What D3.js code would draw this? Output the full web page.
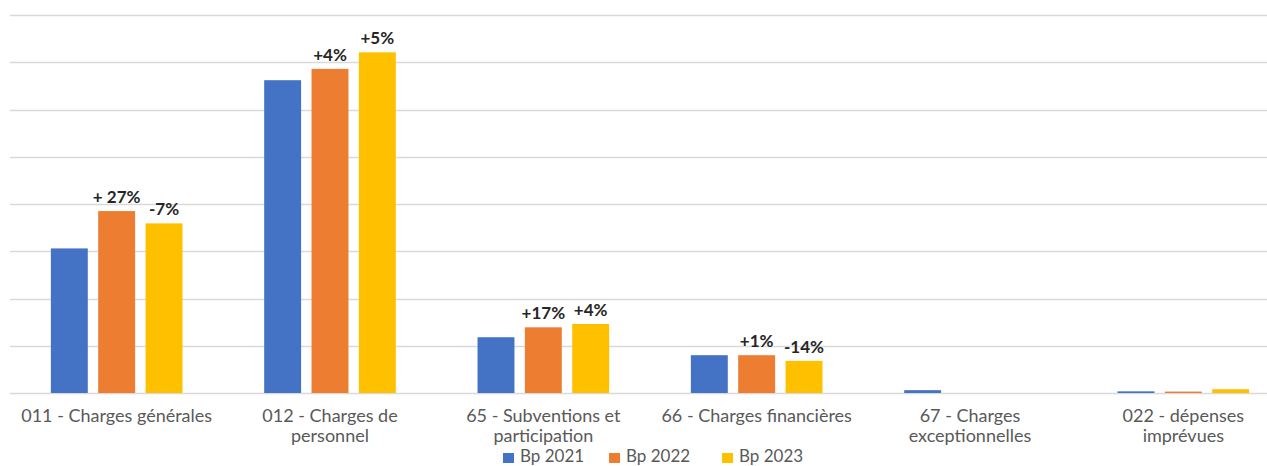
<!DOCTYPE html>
<html>
<head>
<meta charset="utf-8">
<script src="https://cdn.jsdelivr.net/npm/d3@7"></script>
<style>
  html, body { margin: 0; padding: 0; background: #ffffff; }
  svg { display: block; }
</style>
</head>
<body>
<svg id="chart" width="1267" height="466"></svg>
<script>
// ---- data (values in gridline units) ----
const categories = [
  "011 - Charges générales",
  "012 - Charges de personnel",
  "65 - Subventions et participation",
  "66 - Charges financières",
  "67 - Charges exceptionnelles",
  "022 - dépenses imprévues"
];
const categoryLines = [
  ["011 - Charges générales"],
  ["012 - Charges de", "personnel"],
  ["65 - Subventions et", "participation"],
  ["66 - Charges financières"],
  ["67 - Charges", "exceptionnelles"],
  ["022 - dépenses", "imprévues"]
];
const seriesNames = ["Bp 2021", "Bp 2022", "Bp 2023"];
const bp2021 = [3.06, 6.62, 1.18, 0.80, 0.06, 0.035];
const bp2022 = [3.85, 6.86, 1.39, 0.80, 0, 0.03];
const bp2023 = [3.59, 7.21, 1.46, 0.68, 0, 0.08];
const changes2022 = ["+ 27%", "+4%", "+17%", "+1%", "", ""];
const changes2023 = ["-7%", "+5%", "+4%", "-14%", "", ""];
const yTicks = [0, 1, 2, 3, 4, 5, 6, 7, 8];
const colors = ["#4472C4", "#ED7D31", "#FFC000"];

const seriesValues = [bp2021, bp2022, bp2023];
const seriesLabels = [null, changes2022, changes2023];

const svg = d3.select("#chart");
const font = "Lato, 'Open Sans', sans-serif";

const y = d3.scaleLinear().domain([0, 8]).range([393, 15]);
const x0 = d3.scaleBand().domain(categories).range([10, 1290])
  .paddingInner(0.383).paddingOuter(0.1915);
const x1 = d3.scaleBand().domain(seriesNames).range([0, x0.bandwidth()])
  .paddingInner(0.22).paddingOuter(0);

// gridlines
svg.append("g").selectAll("line").data(yTicks).join("line")
  .attr("x1", 10).attr("x2", 1267)
  .attr("y1", d => Math.round(y(d)) + 0.5).attr("y2", d => Math.round(y(d)) + 0.5)
  .attr("stroke", "#D9D9D9").attr("stroke-width", 1.3);

// bars
const groups = svg.append("g").selectAll("g").data(categories).join("g")
  .attr("transform", d => `translate(${x0(d)},0)`);

groups.selectAll("rect")
  .data((c, i) => seriesNames.map((s, j) => ({ s, j, v: seriesValues[j][i] })))
  .join("rect")
  .attr("x", d => x1(d.s))
  .attr("width", x1.bandwidth())
  .attr("y", d => y(d.v))
  .attr("height", d => y(0) - y(d.v))
  .attr("fill", d => colors[d.j]);

// change labels
groups.selectAll("text.chg")
  .data((c, i) => seriesNames.map((s, j) => ({ s, j, v: seriesValues[j][i], t: seriesLabels[j] ? seriesLabels[j][i] : "" }))
    .filter(d => d.t))
  .join("text")
  .attr("class", "chg")
  .attr("x", d => x1(d.s) + x1.bandwidth() / 2)
  .attr("y", d => y(d.v) - 8)
  .attr("text-anchor", "middle")
  .attr("font-family", font)
  .attr("font-weight", "bold")
  .attr("font-size", 17)
  .attr("fill", "#262626")
  .text(d => d.t);

// category axis labels
const xl = svg.append("g").selectAll("text").data(categories).join("text")
  .attr("x", d => x0(d) + x0.bandwidth() / 2)
  .attr("y", 422)
  .attr("text-anchor", "middle")
  .attr("font-family", font)
  .attr("font-size", 18)
  .attr("fill", "#595959");
xl.selectAll("tspan").data((d, i) => categoryLines[i]).join("tspan")
  .attr("x", function () { return d3.select(this.parentNode).attr("x"); })
  .attr("dy", (d, k) => k === 0 ? 0 : 20)
  .text(d => d);

// legend
const legendX = [503, 609, 722];
const lg = svg.append("g").selectAll("g").data(seriesNames).join("g")
  .attr("transform", (d, i) => `translate(${legendX[i]},0)`);
lg.append("rect").attr("x", 0).attr("y", 453).attr("width", 11).attr("height", 10)
  .attr("fill", (d, i) => colors[i]);
lg.append("text").attr("x", 17).attr("y", 462)
  .attr("font-family", font).attr("font-size", 17).attr("fill", "#595959")
  .text(d => d);
</script>
</body>
</html>
